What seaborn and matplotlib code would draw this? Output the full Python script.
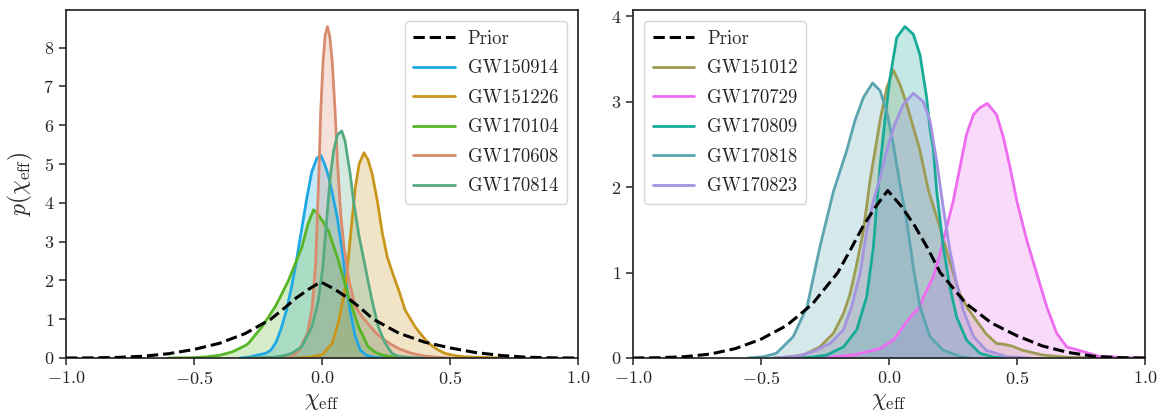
import matplotlib
matplotlib.use("Agg")
import matplotlib.pyplot as plt
import seaborn as sns

# ---------------- data ----------------
prior_x = [-1.0, -0.9, -0.8, -0.7, -0.6, -0.5, -0.4, -0.3, -0.2, -0.15, -0.1, -0.05, -0.005,
           0.05, 0.1, 0.15, 0.2, 0.25, 0.3, 0.4, 0.5, 0.6, 0.7, 0.8, 0.9, 1.0]
prior_y = [0.0, 0.003, 0.015, 0.045, 0.11, 0.22, 0.38, 0.63, 1.0, 1.27, 1.55, 1.78, 1.96,
           1.77, 1.55, 1.29, 1.0, 0.82, 0.64, 0.41, 0.26, 0.14, 0.065, 0.02, 0.004, 0.0]

# left panel
gw150914_x = [-0.32, -0.28, -0.25, -0.22, -0.20, -0.18, -0.16, -0.14, -0.12, -0.10, -0.08, -0.06,
              -0.04, -0.02, -0.005, 0.01, 0.025, 0.04, 0.06, 0.08, 0.095, 0.11, 0.13, 0.15, 0.175, 0.20, 0.25]
gw150914_y = [0.0, 0.03, 0.08, 0.12, 0.20, 0.40, 0.75, 1.20, 1.80, 2.50, 3.30, 4.10,
              4.80, 5.15, 5.22, 5.00, 4.70, 4.25, 3.60, 2.70, 1.90, 1.20, 0.55, 0.20, 0.06, 0.02, 0.0]

gw151226_x = [-0.10, -0.05, 0.0, 0.04, 0.066, 0.093, 0.112, 0.13, 0.145, 0.164, 0.18, 0.196, 0.216,
              0.236, 0.255, 0.275, 0.30, 0.325, 0.364, 0.39, 0.416, 0.45, 0.48, 0.52, 0.56, 0.65, 0.72]
gw151226_y = [0.0, 0.02, 0.08, 0.38, 0.97, 1.91, 3.20, 4.39, 5.00, 5.29, 5.10, 4.74, 4.05,
              3.20, 2.60, 2.20, 1.74, 1.23, 0.80, 0.58, 0.38, 0.22, 0.12, 0.06, 0.03, 0.01, 0.0]

gw170104_x = [-0.6, -0.5, -0.45, -0.4, -0.35, -0.3, -0.287, -0.26, -0.235, -0.21, -0.183, -0.157, -0.131,
              -0.105, -0.079, -0.055, -0.033, -0.015, 0.0, 0.025, 0.064, 0.104, 0.143, 0.18, 0.21, 0.234, 0.28, 0.35]
gw170104_y = [0.0, 0.01, 0.03, 0.07, 0.16, 0.32, 0.38, 0.60, 0.80, 1.05, 1.32, 1.65, 2.00,
              2.42, 2.85, 3.45, 3.82, 3.70, 3.55, 3.28, 2.51, 1.57, 0.80, 0.29, 0.14, 0.08, 0.02, 0.0]

gw170608_x = [-0.15, -0.12, -0.09, -0.057, -0.038, -0.025, -0.018, -0.012, -0.005, 0.004, 0.012, 0.021,
              0.03, 0.04, 0.051, 0.06, 0.073, 0.086, 0.105, 0.13, 0.157, 0.184, 0.21, 0.236, 0.268,
              0.30, 0.35, 0.40, 0.45, 0.50]
gw170608_y = [0.0, 0.02, 0.20, 0.63, 1.32, 2.43, 3.71, 4.80, 6.36, 7.64, 8.30, 8.54,
              8.30, 7.64, 6.36, 5.08, 3.71, 2.85, 2.00, 1.32, 1.06, 0.85, 0.65, 0.50, 0.36,
              0.24, 0.12, 0.05, 0.02, 0.0]

gw170814_x = [-0.3, -0.25, -0.19, -0.15, -0.118, -0.079, -0.04, -0.014, 0.003, 0.019, 0.032, 0.045,
              0.06, 0.077, 0.09, 0.11, 0.123, 0.143, 0.169, 0.195, 0.22, 0.247, 0.273, 0.30, 0.35, 0.40]
gw170814_y = [0.0, 0.01, 0.02, 0.06, 0.12, 0.29, 0.80, 1.49, 2.34, 3.62, 4.65, 5.33,
              5.75, 5.85, 5.59, 4.74, 4.05, 3.20, 2.34, 1.49, 0.80, 0.38, 0.12, 0.04, 0.01, 0.0]

# right panel
gw151012_x = [-0.45, -0.40, -0.334, -0.27, -0.217, -0.178, -0.152, -0.126, -0.10, -0.074, -0.061,
              -0.035, -0.009, 0.017, 0.043, 0.069, 0.095, 0.121, 0.154, 0.199, 0.24, 0.277, 0.31,
              0.341, 0.38, 0.42, 0.45, 0.48, 0.522, 0.6, 0.69, 0.8]
gw151012_y = [0.0, 0.01, 0.035, 0.13, 0.29, 0.52, 0.75, 1.10, 1.49, 2.08, 2.31,
              2.78, 3.16, 3.37, 3.20, 2.97, 2.70, 2.43, 1.96, 1.53, 1.10, 0.75, 0.57,
              0.44, 0.28, 0.17, 0.16, 0.14, 0.09, 0.035, 0.01, 0.0]

gw170729_x = [-0.40, -0.30, -0.23, -0.139, -0.035, 0.017, 0.056, 0.069, 0.095, 0.121, 0.134, 0.173,
              0.199, 0.225, 0.251, 0.277, 0.303, 0.33, 0.355, 0.384, 0.42, 0.447, 0.473, 0.499,
              0.538, 0.577, 0.616, 0.655, 0.694, 0.759, 0.82, 0.92, 1.0]
gw170729_y = [0.0, 0.005, 0.01, 0.035, 0.11, 0.21, 0.37, 0.42, 0.52, 0.60, 0.71, 0.95,
              1.22, 1.53, 1.84, 2.23, 2.62, 2.85, 2.93, 2.98, 2.85, 2.58, 2.23, 1.84,
              1.38, 0.99, 0.60, 0.29, 0.13, 0.075, 0.02, 0.005, 0.0]

gw170809_x = [-0.35, -0.30, -0.243, -0.178, -0.126, -0.087, -0.061, -0.045, -0.035, -0.016, 0.004,
              0.03, 0.062, 0.095, 0.121, 0.147, 0.16, 0.173, 0.186, 0.212, 0.238, 0.264, 0.303,
              0.355, 0.41, 0.45]
gw170809_y = [0.0, 0.01, 0.035, 0.13, 0.33, 0.72, 1.30, 1.90, 2.25, 2.78, 3.28,
              3.75, 3.88, 3.79, 3.55, 3.05, 2.68, 2.45, 1.96, 1.30, 0.83, 0.48, 0.21,
              0.055, 0.01, 0.0]

gw170818_x = [-0.55, -0.49, -0.44, -0.374, -0.32, -0.27, -0.217, -0.19, -0.165, -0.133, -0.10,
              -0.064, -0.035, -0.009, 0.017, 0.04, 0.069, 0.095, 0.121, 0.16, 0.212, 0.28, 0.32]
gw170818_y = [0.0, 0.015, 0.055, 0.25, 0.60, 1.30, 1.95, 2.20, 2.43, 2.78, 3.05,
              3.22, 3.13, 2.89, 2.50, 2.08, 1.61, 1.06, 0.60, 0.25, 0.09, 0.015, 0.0]

gw170823_x = [-0.45, -0.36, -0.296, -0.23, -0.178, -0.146, -0.113, -0.087, -0.06, -0.035, -0.009,
              0.023, 0.056, 0.095, 0.134, 0.16, 0.186, 0.212, 0.238, 0.264, 0.29, 0.33, 0.38, 0.46, 0.55]
gw170823_y = [0.0, 0.02, 0.075, 0.17, 0.33, 0.60, 0.99, 1.49, 1.85, 2.11, 2.43,
              2.74, 2.97, 3.10, 3.00, 2.78, 2.31, 1.76, 1.26, 0.87, 0.56, 0.25, 0.09, 0.015, 0.0]

left_yticks = [0, 1, 2, 3, 4, 5, 6, 7, 8]
right_yticks = [0, 1, 2, 3, 4]
x_ticks = [-1.0, -0.5, 0.0, 0.5, 1.0]

left_events = [
    ("GW150914", gw150914_x, gw150914_y, "#1fa8e6"),
    ("GW151226", gw151226_x, gw151226_y, "#c9961c"),
    ("GW170104", gw170104_x, gw170104_y, "#58b526"),
    ("GW170608", gw170608_x, gw170608_y, "#d98b6f"),
    ("GW170814", gw170814_x, gw170814_y, "#55aa82"),
]
right_events = [
    ("GW151012", gw151012_x, gw151012_y, "#9c9c55"),
    ("GW170729", gw170729_x, gw170729_y, "#ee6cf0"),
    ("GW170809", gw170809_x, gw170809_y, "#17ab98"),
    ("GW170818", gw170818_x, gw170818_y, "#5ba5b0"),
    ("GW170823", gw170823_x, gw170823_y, "#a393e0"),
]

# ---------------- style ----------------
sns.set_theme(style="ticks")
plt.rcParams.update({
    "font.family": ["cmr10", "DejaVu Serif"],
    "mathtext.fontset": "cm",
    "axes.formatter.use_mathtext": True,
    "axes.edgecolor": "#262626",
    "axes.linewidth": 1.25,
    "xtick.color": "#262626",
    "ytick.color": "#262626",
    "xtick.major.size": 5,
    "ytick.major.size": 5,
    "xtick.major.width": 1.1,
    "ytick.major.width": 1.1,
    "xtick.labelsize": 13,
    "ytick.labelsize": 13,
    "legend.fontsize": 13.5,
})

fig = plt.figure(figsize=(11.64, 4.17), dpi=100)
ax1 = fig.add_axes([0.0567, 0.1415, 0.4399, 0.8345])
ax2 = fig.add_axes([0.5438, 0.1415, 0.4399, 0.8345])


def draw(ax, events, loc, yticks):
    sns.lineplot(x=prior_x, y=prior_y, ax=ax, color="black", linestyle="--", lw=2.2,
                 label="Prior", sort=False, estimator=None, zorder=4)
    for name, xs, ys, col in events:
        ax.fill_between(xs, ys, 0, color=col, alpha=0.25, lw=0, zorder=1)
        sns.lineplot(x=xs, y=ys, ax=ax, color=col, lw=2.0, label=name,
                     sort=False, estimator=None, zorder=2)
    ax.set_xlim(-1, 1)
    ax.set_ylim(bottom=0)
    ax.set_xticks(x_ticks)
    ax.set_yticks(yticks)
    ax.set_xlabel(r"$\chi_{\rm eff}$", fontsize=17, labelpad=2)
    for sp in ax.spines.values():
        sp.set_visible(True)
    ax.legend(loc=loc, handlelength=2.2, handletextpad=0.7, labelspacing=0.62,
              borderpad=0.45, borderaxespad=0.6,
              frameon=True, fancybox=True, edgecolor="#cccccc", framealpha=0.8)


draw(ax1, left_events, "upper right", left_yticks)
draw(ax2, right_events, "upper left", right_yticks)
ax1.set_ylabel(r"$p(\chi_{\rm eff})$", fontsize=17, labelpad=6)
ax2.set_ylabel("")

fig.savefig("out.png", dpi=100)
